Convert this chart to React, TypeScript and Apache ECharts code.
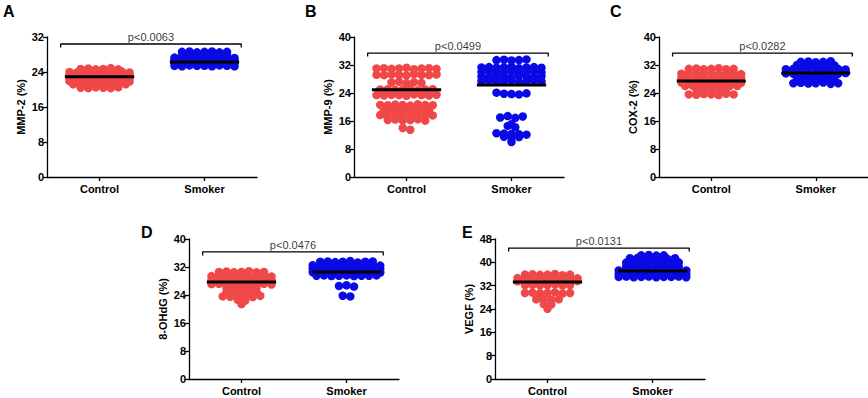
import React, { useEffect, useRef } from "react";
import * as echarts from "echarts";

// ---------- data ----------
const groups = ["Control", "Smoker"];
const panelLetters = ["A", "B", "C", "D", "E"];
const yTitles = ["MMP-2 (%)", "MMP-9 (%)", "COX-2 (%)", "8-OHdG (%)", "VEGF (%)"];
const yMax = [32, 40, 40, 40, 48];
const yInterval = [8, 8, 8, 8, 8];
const pTexts = ["p<0.0063", "p<0.0499", "p<0.0282", "p<0.0476", "p<0.0131"];
const bracketY = [30.4, 35.4, 35.4, 36.3, 44.9];
const controlMeans = [22.9, 24.9, 27.4, 27.7, 33.3];
const smokerMeans = [26.3, 26.3, 29.7, 30.6, 37.0];

const mmp2Control = [
  24.7, 24.8, 24.6, 24.7, 24.9, 24.6,
  24.0, 23.9, 24.1, 24.0, 24.2, 23.9, 24.0, 24.1, 23.9,
  23.3, 23.2, 23.4, 23.3, 23.2, 23.4, 23.3, 23.3, 23.2,
  22.6, 22.5, 22.7, 22.6, 22.6, 22.5, 22.7, 22.6, 22.5,
  21.9, 21.8, 22.0, 21.9, 21.9, 21.8, 22.0, 21.9, 21.8,
  21.2, 21.1, 21.3, 21.2, 21.2, 21.1, 21.3, 21.2,
  20.4, 20.3, 20.5, 20.4, 20.3, 20.5,
];
const mmp2Smoker = [
  28.6, 28.7, 28.5, 28.6, 28.7, 28.5, 28.6,
  27.9, 28.0, 27.8, 27.9, 27.9, 28.0, 27.8,
  27.3, 27.2, 27.4, 27.3, 27.3, 27.2, 27.4, 27.3, 27.2,
  26.7, 26.6, 26.8, 26.7, 26.7, 26.6, 26.8, 26.7, 26.6,
  26.1, 26.0, 26.2, 26.1, 26.1, 26.0, 26.2, 26.1, 26.0,
  25.4, 25.3, 25.5, 25.4, 25.4, 25.3, 25.5, 25.4, 25.3,
];
const mmp9Control = [
  31.0, 31.1, 30.9, 31.0, 31.2, 30.8, 31.0, 31.1, 30.9,
  29.2, 29.1, 29.3, 29.2, 29.0, 29.4, 29.2, 29.1, 29.3,
  27.0, 27.2, 26.8, 27.1, 26.9,
  25.0, 25.1, 24.9, 25.0, 25.2, 24.8, 25.0, 25.1,
  23.4, 23.3, 23.5, 23.4, 23.2, 23.6, 23.4, 23.3, 23.5,
  20.6, 20.5, 20.7, 20.6, 20.4, 20.8, 20.6, 20.5,
  19.1, 19.2, 19.0, 19.1, 19.3, 18.9, 19.1,
  17.7, 17.6, 17.8, 17.7, 17.5, 17.9, 17.7, 17.6,
  16.3, 16.4, 16.2, 16.3, 16.5, 16.1,
  14.0, 13.5,
];
const mmp9Smoker = [
  33.4, 33.5, 33.3, 33.4, 33.6,
  31.3, 31.4, 31.2, 31.3, 31.5, 31.1, 31.3, 31.4, 31.2,
  30.0, 30.1, 29.9, 30.0, 30.2, 29.8, 30.0, 30.1, 29.9,
  28.7, 28.6, 28.8, 28.7, 28.5, 28.9, 28.7, 28.6, 28.8,
  27.4, 27.5, 27.3, 27.4, 27.6, 27.2, 27.4, 27.5, 27.3,
  24.1, 23.8, 23.7, 23.6, 23.9,
  17.0, 17.4, 16.9, 17.3,
  15.1,
  14.6, 14.2,
  12.5, 12.4, 12.3, 12.2, 12.1,
  11.5, 11.3, 11.4,
  10.0,
];
const cox2Control = [
  30.9, 31.0, 30.8, 30.9, 31.1, 30.8, 30.9,
  29.5, 29.6, 29.4, 29.5, 29.7, 29.3, 29.5, 29.6, 29.4,
  28.2, 28.1, 28.3, 28.2, 28.0, 28.4, 28.2, 28.1, 28.3,
  27.0, 27.1, 26.9, 27.0, 27.2, 26.8, 27.0, 27.1, 26.9,
  26.0, 26.1, 25.9, 26.0, 26.1, 25.9, 26.0, 26.0,
  25.0, 25.1, 24.9, 25.0, 25.1,
  23.6, 23.5, 23.7, 23.6, 23.4, 23.8, 23.6,
];
const cox2Smoker = [
  32.9, 33.0, 32.8, 32.9, 33.1,
  32.0, 32.1, 31.9, 32.0, 32.1, 31.9,
  30.8, 30.9, 30.7, 30.8, 31.0, 30.6, 30.8, 30.9, 30.7,
  29.6, 29.5, 29.7, 29.6, 29.4, 29.8, 29.6, 29.5, 29.7,
  28.0, 28.1, 27.9, 28.0, 28.2, 27.8,
  26.8, 26.9, 26.7, 26.8, 27.0, 26.6, 26.8,
];
const ohdgControl = [
  30.6, 30.7, 30.5, 30.6, 30.8, 30.5, 30.6,
  29.4, 29.5, 29.3, 29.4, 29.6, 29.2, 29.4, 29.5, 29.3,
  28.3, 28.2, 28.4, 28.3, 28.1, 28.5, 28.3, 28.2, 28.4,
  27.1, 27.2, 27.0, 27.1, 27.3, 26.9, 27.1, 27.2, 27.0,
  26.0, 26.1, 25.9, 26.0, 26.2,
  24.8, 24.9, 24.7, 24.8, 25.0,
  23.6, 23.5, 23.7, 23.6, 23.4, 23.8,
  22.6, 22.4,
  21.4,
];
const ohdgSmoker = [
  33.5, 33.6, 33.4, 33.5, 33.7, 33.3, 33.5, 33.6,
  32.5, 32.6, 32.4, 32.5, 32.6, 32.4, 32.5, 32.5, 32.6, 32.4,
  31.5, 31.6, 31.4, 31.5, 31.6, 31.4, 31.5, 31.5, 31.6, 31.4,
  30.5, 30.6, 30.4, 30.5, 30.6, 30.4, 30.5, 30.5, 30.6, 30.4,
  29.5, 29.6, 29.4, 29.5, 29.6, 29.4, 29.5, 29.5, 29.6,
  26.6, 26.8, 26.4,
  23.8, 23.6,
];
const vegfControl = [
  35.8, 35.9, 35.7, 35.8, 36.0, 35.6, 35.8,
  34.6, 34.7, 34.5, 34.6, 34.8, 34.4, 34.6, 34.7, 34.5,
  33.5, 33.4, 33.6, 33.5, 33.3, 33.7, 33.5, 33.4, 33.6,
  32.2, 32.3, 32.1, 32.2, 32.4, 32.0, 32.2,
  29.5, 29.6, 29.4, 29.5, 29.7, 29.3, 29.5,
  27.3, 27.4, 27.2, 27.3,
  25.7, 25.5,
  24.1,
];
const vegfSmoker = [
  42.4, 42.5, 42.3, 42.4,
  41.4, 41.5, 41.3, 41.4, 41.6, 41.2, 41.4,
  39.9, 40.0, 39.8, 39.9, 40.1, 39.7, 39.9, 40.0,
  38.6, 38.5, 38.7, 38.6, 38.4, 38.8, 38.6, 38.5,
  37.2, 37.3, 37.1, 37.2, 37.4, 37.0, 37.2, 37.3, 37.1, 37.2,
  36.0, 36.1, 35.9, 36.0, 36.2, 35.8, 36.0, 36.1, 35.9, 36.0,
  35.0, 35.1, 34.9, 35.0, 35.1, 34.9, 35.0, 35.0, 35.1, 34.9,
];

const controlValues = [mmp2Control, mmp9Control, cox2Control, ohdgControl, vegfControl];
const smokerValues = [mmp2Smoker, mmp9Smoker, cox2Smoker, ohdgSmoker, vegfSmoker];

// ---------- layout / style ----------
const gridPos = [
  { left: 47, top: 37 },
  { left: 354, top: 37 },
  { left: 659, top: 37 },
  { left: 189, top: 239 },
  { left: 495, top: 239 },
];
const gridW = 210;
const gridH = 140;
const letterPos = [
  [3, 3],
  [305, 3],
  [610, 3],
  [141, 224],
  [462, 224],
];
const rowThreshold = [0.35, 0.6, 0.6, 0.6, 0.7];
const bracketDrop = [0.8, 1.0, 1.0, 1.0, 1.2];
const dotStep = 7.5 / 105; // horizontal dot spacing in x units
const meanHalf = 0.33;
const bracketX = [0.63, 2.35];
const RED = "#f04848";
const BLUE = "#0a0ae6";
const FONT = "'Liberation Sans', Arial, Helvetica, sans-serif";

function swarm(values: number[], center: number, threshold: number, step: number): number[][] {
  const idx = values.map((v, i) => i).sort((a, b) => values[a] - values[b] || a - b);
  const rows: number[][] = [];
  for (const i of idx) {
    const last = rows[rows.length - 1];
    if (last && values[i] - values[last[0]] < threshold - 1e-9) last.push(i);
    else rows.push([i]);
  }
  const pts: number[][] = [];
  for (const row of rows) {
    const r = [...row].sort((a, b) => a - b);
    const n = r.length;
    r.forEach((vi, k) => {
      pts.push([center + (k - (n - 1) / 2) * step, values[vi]]);
    });
  }
  return pts;
}

export default function App() {
  const ref = useRef<HTMLDivElement>(null);
  useEffect(() => {
    if (!ref.current) return;
    const chart = echarts.init(ref.current, null, { renderer: "svg" });
    const grid: any[] = [];
    const xAxis: any[] = [];
    const yAxis: any[] = [];
    const series: any[] = [];
    const graphic: any[] = [];
    const axisLineStyle = { color: "#000", width: 1.3 };

    for (let p = 0; p < 5; p++) {
      grid.push({ left: gridPos[p].left, top: gridPos[p].top, width: gridW, height: gridH });
      xAxis.push({
        type: "category",
        gridIndex: p,
        data: groups,
        boundaryGap: true,
        axisLine: { show: true, lineStyle: axisLineStyle },
        axisTick: { show: true, alignWithLabel: true, length: 4, lineStyle: axisLineStyle },
        axisLabel: { color: "#000", fontWeight: "bold", fontSize: 11, fontFamily: FONT, margin: 6 },
        splitLine: { show: false },
      });
      xAxis.push({ type: "value", gridIndex: p, min: 0.5, max: 2.5, show: false });
      yAxis.push({
        type: "value",
        gridIndex: p,
        min: 0,
        max: yMax[p],
        interval: yInterval[p],
        name: yTitles[p],
        nameLocation: "middle",
        nameGap: 21,
        nameRotate: 90,
        nameTextStyle: { color: "#000", fontWeight: "bold", fontSize: 11, fontFamily: FONT },
        axisLine: { show: true, lineStyle: axisLineStyle },
        axisTick: { show: true, length: 4, lineStyle: axisLineStyle },
        axisLabel: { color: "#000", fontWeight: "bold", fontSize: 11, fontFamily: FONT, margin: 3 },
        splitLine: { show: false },
      });
      const xi = p * 2 + 1;
      series.push({
        type: "scatter",
        xAxisIndex: xi,
        yAxisIndex: p,
        data: swarm(controlValues[p], 1, rowThreshold[p], dotStep),
        symbolSize: 8.5,
        itemStyle: { color: RED, opacity: 1 },
        z: 2,
      });
      series.push({
        type: "scatter",
        xAxisIndex: xi,
        yAxisIndex: p,
        data: swarm(smokerValues[p], 2, rowThreshold[p], dotStep),
        symbolSize: 8.5,
        itemStyle: { color: BLUE, opacity: 1 },
        z: 2,
      });
      const means = [controlMeans[p], smokerMeans[p]];
      means.forEach((m, gi) => {
        series.push({
          type: "line",
          xAxisIndex: xi,
          yAxisIndex: p,
          data: [
            [gi + 1 - meanHalf, m],
            [gi + 1 + meanHalf, m],
          ],
          symbol: "none",
          lineStyle: { color: "#000", width: 3 },
          z: 4,
          silent: true,
        });
      });
      const b = bracketY[p];
      const d = bracketDrop[p];
      series.push({
        type: "line",
        xAxisIndex: xi,
        yAxisIndex: p,
        data: [
          [bracketX[0], b - d],
          [bracketX[0], b],
          [bracketX[1], b],
          [bracketX[1], b - d],
        ],
        symbol: "none",
        lineStyle: { color: "#000", width: 1.3 },
        z: 4,
        silent: true,
      });
      series.push({
        type: "scatter",
        xAxisIndex: xi,
        yAxisIndex: p,
        data: [[(bracketX[0] + bracketX[1]) / 2, b]],
        symbolSize: 1,
        itemStyle: { color: "rgba(0,0,0,0)" },
        label: {
          show: true,
          position: "top",
          distance: 1,
          formatter: pTexts[p],
          color: "#000",
          fontSize: 11,
          fontFamily: FONT,
        },
        z: 5,
        silent: true,
      });
      graphic.push({
        type: "text",
        left: letterPos[p][0],
        top: letterPos[p][1],
        style: { text: panelLetters[p], fill: "#000", font: `bold 16px ${FONT}` },
      });
    }

    chart.setOption({
      animation: false,
      backgroundColor: "#fff",
      grid,
      xAxis,
      yAxis,
      series,
      graphic,
    });
    return () => chart.dispose();
  }, []);
  return (
    <div
      ref={ref}
      style={{ position: "absolute", left: 0, top: 0, width: 868, height: 398 }}
    />
  );
}
